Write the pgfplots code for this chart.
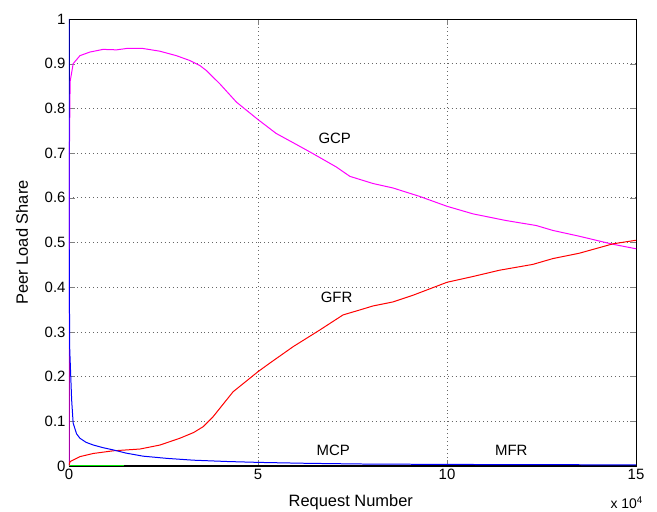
\documentclass[border=0pt]{standalone}
\usepackage{fontspec}
\setmainfont{Liberation Sans}
\usepackage{pgfplots}
\pgfplotsset{compat=1.18}
\definecolor{mag}{RGB}{255,0,255}
\definecolor{rd}{RGB}{255,0,0}
\definecolor{bl}{RGB}{0,0,255}
\definecolor{gr}{RGB}{0,230,0}
\begin{document}
\begin{tikzpicture}
\path[use as bounding box] (-69bp,-46bp) rectangle (588bp,466bp);
\begin{axis}[
  scale only axis, width=567bp, height=447bp,
  xmin=0, xmax=15, ymin=0, ymax=1,
  xtick={0,5,10,15}, ytick={0,0.1,...,1},
  yticklabels={0,0.1,0.2,0.3,0.4,0.5,0.6,0.7,0.8,0.9,1},
  /pgf/number format/assume math mode=true,
  tick label style={font=\fontsize{15}{17}\selectfont},
  label style={font=\fontsize{16.5}{19}\selectfont},
  xlabel={Request Number}, ylabel={Peer Load Share},
  xlabel style={at={(axis description cs:0.497,0)}, anchor=center, yshift=-36bp},
  ylabel style={at={(axis description cs:0,0.5)}, anchor=center, yshift=47bp},
  tick align=inside, tick pos=both,
  major tick length=6bp,
  grid=major,
  grid style={black!60, line width=0.7pt, dash pattern=on 0.7pt off 3.3pt},
  axis line style={black, line width=0.9pt},
  every axis plot/.append style={line width=1pt},
  clip mode=individual,
]
\addplot[gr, line width=1.4pt] coordinates {(0,0.0015) (15,0.0015)};
\addplot[black, line width=1.2pt] coordinates {(1.45,0.001) (15,0.001)};
\addplot[mag] coordinates {
(0,0.0) (0.01,0.70) (0.03,0.86) (0.11,0.90) (0.29,0.918) (0.55,0.926)
(0.9,0.932) (1.26,0.931) (1.52,0.934) (1.96,0.934) (2.4,0.928) (2.84,0.918)
(3.2,0.907) (3.46,0.896) (3.63,0.885) (3.99,0.855) (4.43,0.814) (5.0,0.775)
(5.48,0.744) (6.0,0.720) (6.45,0.699) (7.07,0.669) (7.43,0.648) (8.04,0.632)
(8.57,0.622) (9.28,0.603) (10.0,0.581) (10.69,0.564) (11.57,0.549)
(12.36,0.538) (12.8,0.527) (13.5,0.514) (14.39,0.496) (15.0,0.486)
};
\addplot[rd] coordinates {
(0,0.002) (0.03,0.01) (0.29,0.021) (0.64,0.028) (1.17,0.034) (1.88,0.038)
(2.41,0.047) (2.93,0.062) (3.3,0.075) (3.55,0.088) (3.81,0.110) (4.34,0.166)
(5.0,0.211) (5.31,0.230) (5.93,0.267) (6.63,0.304) (7.25,0.338) (7.69,0.349)
(8.04,0.358) (8.57,0.367) (9.1,0.382) (10.0,0.411) (10.69,0.424)
(11.39,0.438) (12.27,0.451) (12.8,0.464) (13.5,0.476) (14.39,0.497) (15.0,0.505)
};
\addplot[bl] coordinates {
(0,1.0) (0.003,0.6) (0.01,0.38) (0.02,0.26) (0.07,0.148) (0.11,0.096)
(0.2,0.072) (0.29,0.062) (0.45,0.053) (0.64,0.047) (0.9,0.041) (1.17,0.036)
(1.5,0.029) (1.96,0.022) (2.6,0.017) (3.29,0.013) (4.2,0.010) (5.05,0.008)
(6.3,0.006) (7.69,0.0045) (10.0,0.0035) (12.5,0.003) (15.0,0.0025)
};
\node[font=\fontsize{15}{17}\selectfont] at (axis cs:7.03,0.734) {GCP};
\node[font=\fontsize{15}{17}\selectfont] at (axis cs:7.08,0.377) {GFR};
\node[font=\fontsize{15}{17}\selectfont] at (axis cs:6.99,0.036) {MCP};
\node[font=\fontsize{15}{17}\selectfont] at (axis cs:11.7,0.034) {MFR};
\node[font=\fontsize{14}{16}\selectfont, anchor=east, inner sep=0pt] at (rel axis cs:1,0) [xshift=7bp, yshift=-37bp] {x 10\textsuperscript{4}};
\end{axis}
\end{tikzpicture}
\end{document}
